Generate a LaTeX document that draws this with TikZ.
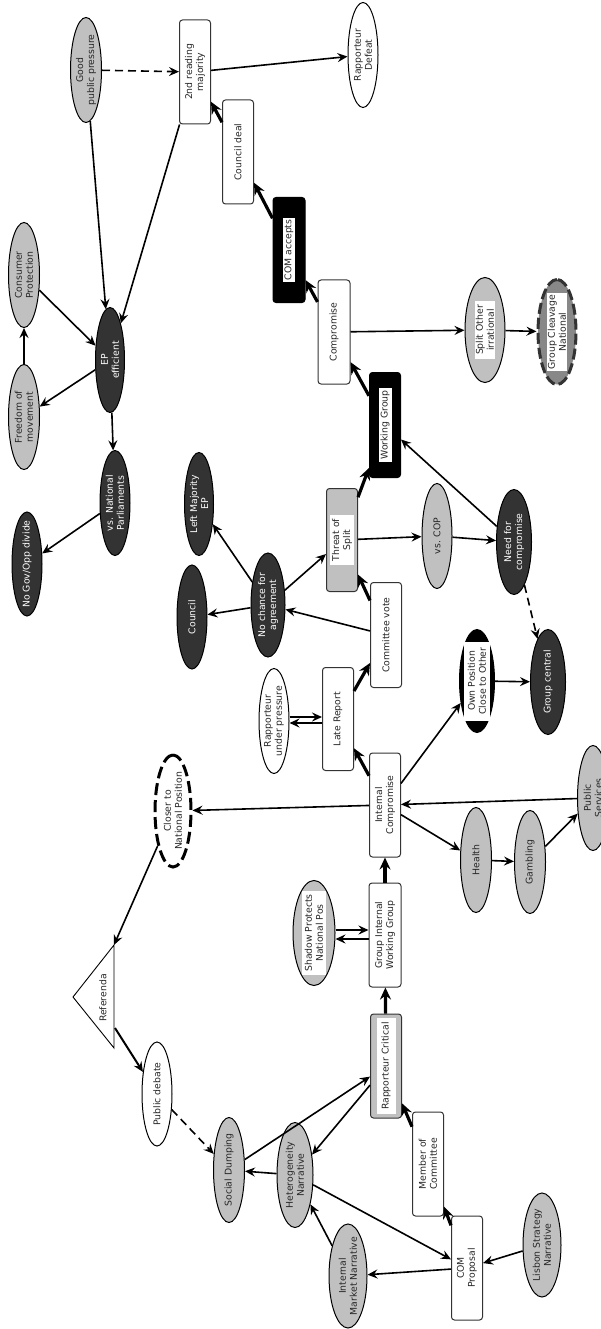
\documentclass[tikz,border=0pt]{standalone}
\usepackage{fontspec}
\setmainfont{DejaVu Sans}
\usetikzlibrary{arrows.meta,shapes.geometric}
\definecolor{lg}{HTML}{C0C0C0}
\definecolor{dk}{HTML}{333333}
\definecolor{mg}{HTML}{888888}
\tikzset{
 base/.style={rotate=90, inner sep=0pt, draw=black, line width=1pt},
 ell/.style={base, ellipse},
 box/.style={base, rectangle, rounded corners=3pt, draw=dk},
 txt/.style={rotate=90, align=center, font=\fontsize{9.3}{11}\selectfont, inner sep=0pt, text=black!85},
 wtxt/.style={txt, text=white},
 lbl/.style={txt, fill=white},
 arr/.style={line width=1.6pt, -{Stealth[length=10pt,width=9pt,inset=3.5pt]}},
 tarr/.style={line width=3.2pt, -{Stealth[length=12pt,width=11pt,inset=4pt]}},
 darr/.style={arr, dash pattern=on 8pt off 5pt},
}
\begin{document}
\begin{tikzpicture}[x=1pt,y=-1pt]
\useasboundingbox[fill=white] (0,0) rectangle (601,1329);
% ---------- top area
\node[ell, fill=lg, minimum width=105pt, minimum height=31pt] (gpp) at (86,70) {};
\node[txt] (gppT) at (gpp) {Good\\public pressure};
\node[box, fill=white, minimum width=104pt, minimum height=31pt] (snd) at (195,72) {};
\node[txt] (sndT) at (snd) {2nd reading\\majority};
\node[ell, fill=white, minimum width=105pt, minimum height=30pt] (rdef) at (363,55) {};
\node[txt] (rdefT) at (rdef) {Rapporteur\\Defeat};
\node[box, fill=white, minimum width=104pt, minimum height=31pt] (cdeal) at (238,152) {};
\node[txt] (cdealT) at (cdeal) {Council deal};
\node[box, fill=black, draw=black, minimum width=105pt, minimum height=32pt] (comacc) at (289,250) {};
\node[lbl, inner xsep=2pt, inner ysep=2pt] (comaccT) at (comacc) {COM accepts};
\node[ell, fill=lg, minimum width=105pt, minimum height=31pt] (cons) at (24,275) {};
\node[txt] (consT) at (cons) {Consumer\\Protection};
\node[ell, fill=dk, minimum width=105pt, minimum height=29pt] (epeff) at (110,360) {};
\node[wtxt] (epeffT) at (epeff) {EP\\efficient};
\node[ell, fill=lg, minimum width=105pt, minimum height=31pt] (free) at (24,417) {};
\node[txt] (freeT) at (free) {Freedom of\\movement};
\node[box, fill=white, minimum width=104pt, minimum height=32pt] (compr) at (334,332) {};
\node[txt] (comprT) at (compr) {Compromise};
\node[ell, fill=lg, minimum width=105pt, minimum height=40pt] (split) at (485,330) {};
\node[lbl, inner xsep=4.5pt, inner ysep=1pt] (splitT) at (split) {Split Other\\irrational};
\node[ell, fill=mg, draw=dk, line width=3pt, dash pattern=on 11pt off 4pt, minimum width=105pt, minimum height=38pt] (cleav) at (557,332) {};
\node[txt, fill=white, inner xsep=2pt, inner ysep=1pt] (cleavT) at (cleav) {Group Cleavage\\National};
\node[box, fill=black, draw=black, minimum width=105pt, minimum height=31pt] (wg) at (385,425) {};
\node[lbl, inner xsep=2pt, inner ysep=2pt] (wgT) at (wg) {Working Group};
% ---------- middle
\node[ell, fill=dk, minimum width=105pt, minimum height=30pt] (vsnat) at (115,503) {};
\node[wtxt] (vsnatT) at (vsnat) {vs. National\\Parliaments};
\node[ell, fill=dk, minimum width=104pt, minimum height=30pt] (nogov) at (27,564) {};
\node[wtxt] (nogovT) at (nogov) {No Gov/Opp divide};
\node[ell, fill=dk, minimum width=103pt, minimum height=29pt] (leftmaj) at (199,504) {};
\node[wtxt] (leftmajT) at (leftmaj) {Left Majority\\EP};
\node[ell, fill=dk, minimum width=104pt, minimum height=30pt] (council) at (192,617) {};
\node[wtxt] (councilT) at (council) {Council};
\node[ell, fill=dk, minimum width=104pt, minimum height=34pt] (nochance) at (268,605) {};
\node[wtxt] (nochanceT) at (nochance) {No chance for\\agreement};
\node[box, fill=lg, minimum width=103pt, minimum height=31pt] (threat) at (342,540) {};
\node[lbl, inner xsep=4pt, inner ysep=2pt] (threatT) at (threat) {Threat of\\Split};
\node[ell, fill=lg, minimum width=105pt, minimum height=30pt] (vscop) at (437,536) {};
\node[txt] (vscopT) at (vscop) {vs. COP};
\node[ell, fill=dk, minimum width=105pt, minimum height=35pt] (needc) at (514,542) {};
\node[wtxt] (needcT) at (needc) {Need for\\compromise};
\node[box, fill=white, minimum width=105pt, minimum height=31pt] (cvote) at (386,635) {};
\node[txt] (cvoteT) at (cvote) {Committee vote};
\node[ell, fill=dk, minimum width=105pt, minimum height=35pt] (gcentral) at (548,682) {};
\node[wtxt] (gcentralT) at (gcentral) {Group central};
\node[ell, fill=black, minimum width=103pt, minimum height=35pt] (ownpos) at (477,681) {};
\node[lbl, inner xsep=6pt, inner ysep=4pt] (ownposT) at (ownpos) {Own Position\\Close to Other};
\node[box, fill=white, minimum width=103pt, minimum height=31pt] (late) at (338,719) {};
\node[txt] (lateT) at (late) {Late Report};
\node[ell, fill=white, minimum width=105pt, minimum height=30pt] (rup) at (274,721) {};
\node[txt] (rupT) at (rup) {Rapporteur\\under pressure};
\node[ell, fill=white, line width=3pt, dash pattern=on 12pt off 5pt, minimum width=112pt, minimum height=36pt] (closer) at (173,811) {};
\node[txt] (closerT) at (closer) {Closer to\\National Position};
\node[box, fill=white, minimum width=104pt, minimum height=31pt] (intcomp) at (385,805) {};
\node[txt] (intcompT) at (intcomp) {Internal\\Compromise};
\node[ell, fill=lg, minimum width=105pt, minimum height=31pt] (health) at (476,860) {};
\node[txt] (healthT) at (health) {Health};
\node[ell, fill=lg, minimum width=103pt, minimum height=31pt] (gamb) at (530,862) {};
\node[txt] (gambT) at (gamb) {Gambling};
\node[ell, fill=lg, minimum width=105pt, minimum height=31pt] (pubserv) at (593,798) {};
\node[txt] (pubservT) at (pubserv) {Public\\Services};
% ---------- lower
\node[ell, fill=lg, minimum width=105pt, minimum height=42pt] (shadow) at (314,933) {};
\node[lbl, inner xsep=3pt, inner ysep=3pt] (shadowT) at (shadow) {Shadow Protects\\National Pos};
\node[box, fill=white, minimum width=104pt, minimum height=32pt] (giwg) at (385,935) {};
\node[txt] (giwgT) at (giwg) {Group Internal\\Working Group};
\node[box, fill=lg, minimum width=104pt, minimum height=31pt] (rapcrit) at (386,1066) {};
\node[lbl, inner xsep=4pt, inner ysep=5pt] (rapcritT) at (rapcrit) {Rapporteur Critical};
\draw[line width=0.9pt, fill=white] (73,997) -- (114,945) -- (114,1048) -- cycle;
\coordinate (reftop) at (114,945);
\coordinate (refbase) at (115,1028);
\node[txt] (ref) at (103,998) {Referenda};
\node[ell, fill=white, minimum width=104pt, minimum height=30pt] (pubdeb) at (157,1094) {};
\node[txt] (pubdebT) at (pubdeb) {Public debate};
\node[ell, fill=lg, minimum width=105pt, minimum height=31pt] (socd) at (229,1170) {};
\node[txt] (socdT) at (socd) {Social Dumping};
\node[ell, fill=lg, minimum width=105pt, minimum height=36pt] (hetero) at (295,1175) {};
\node[txt] (heteroT) at (hetero) {Heterogeneity\\Narrative};
\node[box, fill=white, minimum width=104pt, minimum height=31pt] (member) at (428,1164) {};
\node[txt] (memberT) at (member) {Member of\\Committee};
\node[box, fill=white, minimum width=104pt, minimum height=31pt] (comprop) at (467,1268) {};
\node[txt] (compropT) at (comprop) {COM\\Proposal};
\node[ell, fill=lg, minimum width=104pt, minimum height=38pt] (intmkt) at (348,1276) {};
\node[txt] (intmktT) at (intmkt) {Internal\\Market Narrative};
\node[ell, fill=lg, minimum width=104pt, minimum height=38pt] (lisbon) at (542,1245) {};
\node[txt] (lisbonT) at (lisbon) {Lisbon Strategy\\Narrative};
% ---------- edges
\draw[darr] (gpp) -- (snd);
\draw[arr] (gpp) -- (epeff);
\draw[arr] (snd) -- (rdef);
\draw[arr] (snd) -- (epeff);
\draw[tarr] (cdeal) -- (snd);
\draw[tarr] (comacc) -- (cdeal);
\draw[tarr] (compr) -- (comacc);
\draw[tarr] (wg) -- (compr);
\draw[arr] (compr) -- (split);
\draw[arr] (split) -- (cleav);
\draw[arr] (cons) -- (epeff);
\draw[arr] (epeff) -- (free);
\draw[arr] (free) -- (cons);
\draw[arr] (epeff) -- (vsnat);
\draw[arr] (vsnat) -- (nogov);
\draw[arr] (needc) -- (wg);
\draw[tarr] (threat) -- (wg);
\draw[arr] (threat) -- (vscop);
\draw[arr] (vscop) -- (needc);
\draw[darr] (needc) -- (gcentral);
\draw[arr] (nochance) -- (leftmaj);
\draw[arr] (nochance) -- (council);
\draw[arr] (nochance) -- (threat);
\draw[arr] (cvote) -- (nochance);
\draw[tarr] (cvote) -- (threat);
\draw[tarr] (late) -- (cvote);
\coordinate (a1) at ([yshift=4pt]rup.south);
\coordinate (a2) at ([yshift=-4pt]late.north);
\draw[arr] (a1) -- (a1 -| late.north);
\draw[arr] (a2) -- (a2 -| rup.south);
\draw[tarr] (intcomp) -- (late);
\draw[arr] (intcomp) -- (ownpos);
\draw[arr] (ownpos) -- (gcentral);
\draw[arr] (pubserv) -- (intcomp);
\draw[arr] (intcomp) -- (closer);
\draw[arr] (intcomp) -- (health);
\draw[arr] (health) -- (gamb);
\draw[arr] (gamb) -- (pubserv);
\draw[tarr] (giwg) -- (intcomp);
\coordinate (b1) at ([yshift=3pt]shadow.south);
\coordinate (b2) at ([yshift=-4pt]giwg.north);
\draw[arr] (b1) -- (b1 -| giwg.north);
\draw[arr] (b2) -- (b2 -| shadow.south);
\draw[tarr] (rapcrit) -- (giwg);
\draw[arr] (closer) -- (reftop);
\draw[arr, line width=2pt] (refbase) -- (pubdeb);
\draw[darr] (pubdeb) -- (socd);
\draw[arr] (socd) -- (rapcrit);
\draw[arr] (rapcrit) -- (hetero);
\draw[arr] (hetero) -- (socd);
\draw[tarr] (member) -- (rapcrit);
\draw[tarr] (comprop) -- (member);
\draw[arr] (hetero) -- (comprop);
\draw[arr] (intmkt) -- (hetero);
\draw[arr] (comprop) -- (intmkt);
\draw[arr] (lisbon) -- (comprop);
\end{tikzpicture}
\end{document}
